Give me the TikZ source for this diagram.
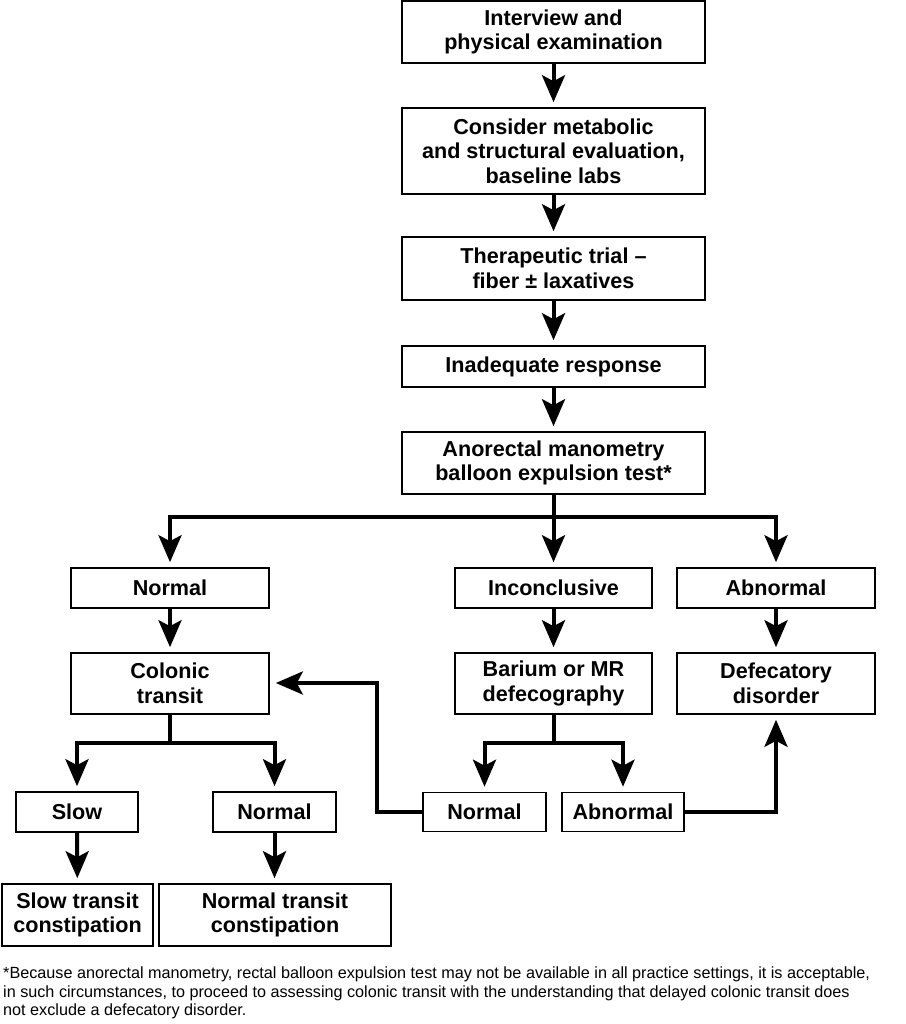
\documentclass[tikz,border=0pt]{standalone}
\usepackage{fontspec}
\setmainfont{Liberation Sans}
\usetikzlibrary{arrows.meta}
\begin{document}
\begin{tikzpicture}[x=1pt,y=-1pt,
  box/.style={draw=black, line width=1.6pt, fill=white, inner sep=0pt, align=center,
    font=\fontsize{21.6}{24.5}\selectfont\bfseries},
  arr/.style={line width=4pt, line join=miter, -{Stealth[length=27pt,width=23pt,inset=6pt]}, shorten >=5pt},
  ln/.style={line width=4pt, line join=miter},
  fn/.style={anchor=base west, inner sep=0pt, font=\fontsize{16.2}{19}\selectfont}]
\useasboundingbox (0,0) rectangle (905,1024);
% main column
\node[box, minimum width=303pt, minimum height=62pt] (b1) at (553.5,32) {Interview and\\physical examination};
\node[box, minimum width=303pt, minimum height=86pt] (b2) at (553.5,151) {Consider metabolic\\and structural evaluation,\\baseline labs};
\node[box, minimum width=303pt, minimum height=63pt] (b3) at (553.5,268.5) {Therapeutic trial –\\fiber ± laxatives};
\node[box, minimum width=303pt, minimum height=41pt] (b4) at (553.5,366.5) {Inadequate response};
\node[box, minimum width=303pt, minimum height=62pt] (b5) at (553.5,463) {Anorectal manometry\\balloon expulsion test*};
% second level
\node[box, minimum width=198pt, minimum height=40pt] (n1) at (170,588) {Normal};
\node[box, minimum width=197pt, minimum height=40pt] (inc) at (553.5,588) {Inconclusive};
\node[box, minimum width=198pt, minimum height=40pt] (abn) at (776,588) {Abnormal};
\node[box, minimum width=198pt, minimum height=61pt] (col) at (170,683.5) {Colonic\\transit};
\node[box, minimum width=197pt, minimum height=61pt] (bar) at (553.5,683.5) {Barium or MR\\defecography};
\node[box, minimum width=198pt, minimum height=61pt] (def) at (776,683.5) {Defecatory\\disorder};
% third level
\node[box, minimum width=122pt, minimum height=40pt] (slow) at (77,812) {Slow};
\node[box, minimum width=123pt, minimum height=40pt] (nor2) at (274.5,812) {Normal};
\node[box, minimum width=123pt, minimum height=39pt] (nor3) at (484.5,812) {Normal};
\node[box, minimum width=122pt, minimum height=39pt] (abn3) at (623,812) {Abnormal};
\node[box, minimum width=151pt, minimum height=62pt] (stc) at (77.5,915) {Slow transit\\constipation};
\node[box, minimum width=232pt, minimum height=62pt] (ntc) at (275,915) {Normal transit\\constipation};
% junction coordinates
\coordinate (j5) at (553.5,517);
\coordinate (jc) at (170,743);
\coordinate (jb) at (553.5,743);
\coordinate (fb) at (377,683);
% connectors
\draw[arr] (b1) -- (b2);
\draw[arr] (b2) -- (b3);
\draw[arr] (b3) -- (b4);
\draw[arr] (b4) -- (b5);
\draw[ln] (b5.south) -- (j5);
\draw[arr] (j5) -| (n1.north);
\draw[arr] (j5) -- (inc.north);
\draw[arr] (j5) -| (abn.north);
\draw[arr] (n1) -- (col);
\draw[arr] (inc) -- (bar);
\draw[arr] (abn) -- (def);
\draw[ln] (col.south) -- (jc);
\draw[arr] (jc) -| (slow.north);
\draw[arr] (jc) -| (nor2.north);
\draw[ln] (bar.south) -- (jb);
\draw[arr] (jb) -| (nor3.north);
\draw[arr] (jb) -| (abn3.north);
\draw[arr] (slow) -- (stc);
\draw[arr] (nor2.south) -- (nor2.south |- ntc.north);
\draw[arr, shorten >=6pt] (nor3.west) -| (fb) -- (fb -| col.east);
\draw[arr] (abn3.east) -| (def.south);
% footnote
\node[fn] (f1) at (3,978) {*Because anorectal manometry, rectal balloon expulsion test may not be available in all practice settings, it is acceptable,};
\node[fn] (f2) at (3,997) {in such circumstances, to proceed to assessing colonic transit with the understanding that delayed colonic transit does};
\node[fn] (f3) at (3,1015) {not exclude a defecatory disorder.};
\end{tikzpicture}
\end{document}
